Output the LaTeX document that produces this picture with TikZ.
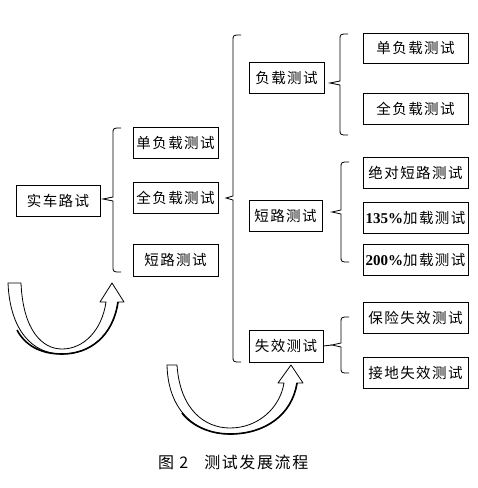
\documentclass[tikz,border=0pt]{standalone}
\usepackage{fontspec}
\setmainfont{Liberation Serif}
\newfontfamily\cjk[LetterSpace=10]{Noto Sans CJK SC}
\newfontfamily\cjkcap[LetterSpace=10]{Noto Sans CJK SC}
\newcommand{\mybrace}[5]{% x, ytop, ymid, ybot, tipx
  \draw[bracestyle] (#1+8,#2) .. controls (#1,#2) .. (#1,#2+6) -- (#1,#3-2) -- (#5,#3) -- (#1,#3+2) -- (#1,#4-6) .. controls (#1,#4) .. (#1+8,#4);}
\begin{document}
\begin{tikzpicture}[x=1pt,y=-1pt,
  bx/.style={draw, line width=0.8pt, inner sep=0pt, font=\cjk\fontsize{14.5}{16}\selectfont},
  bracestyle/.style={line width=0.8pt},
  band/.style={draw, fill=white, line width=0.8pt, line join=round},
  bandedge/.style={line width=1.6pt}]
\useasboundingbox (0,0) rectangle (478,488);
% left column
\node[bx, minimum width=84pt, minimum height=31pt] (a) at (58,200.5) {实车路试};
\node[bx, minimum width=85pt, minimum height=31pt] (l1) at (175.5,142.5) {单负载测试};
\node[bx, minimum width=85pt, minimum height=31pt] (l2) at (175.5,197.5) {全负载测试};
\node[bx, minimum width=85pt, minimum height=32pt] (l3) at (175.5,260) {短路测试};
% middle column
\node[bx, minimum width=75pt, minimum height=31pt] (m1) at (286.5,77.5) {负载测试};
\node[bx, minimum width=73pt, minimum height=31pt] (m2) at (285.5,215.5) {短路测试};
\node[bx, minimum width=74pt, minimum height=32pt] (m3) at (286,346) {失效测试};
% right column
\node[bx, minimum width=105pt, minimum height=30pt] (r1) at (415.5,48) {单负载测试};
\node[bx, minimum width=105pt, minimum height=31pt] (r2) at (415.5,108.5) {全负载测试};
\node[bx, minimum width=105pt, minimum height=31pt] (r3) at (415.5,172.5) {绝对短路测试};
\node[bx, minimum width=105pt, minimum height=31pt] (r4) at (415.5,217.5) {{\rmfamily\bfseries\fontsize{15}{16}\selectfont 135\%}加载测试};
\node[bx, minimum width=105pt, minimum height=31pt] (r5) at (415.5,259.5) {{\rmfamily\bfseries\fontsize{15}{16}\selectfont 200\%}加载测试};
\node[bx, minimum width=105pt, minimum height=31pt] (r6) at (415.5,317.5) {保险失效测试};
\node[bx, minimum width=105pt, minimum height=31pt] (r7) at (415.5,372.5) {接地失效测试};
% braces
\mybrace{113}{128}{199}{272}{103}
\mybrace{233}{35}{198}{362}{226}
\mybrace{340}{34}{83}{135}{330}
\mybrace{341}{162}{212}{262}{332}
\mybrace{341}{317}{345}{373}{332}
\draw[bracestyle] (m3.east) -- (332,345);
% curved arrows
\draw[band] (8,283) -- (21,283) .. controls (23,330) and (42,349) .. (62,349) .. controls (84,349) and (102,330) .. (106,302) -- (100,302) -- (112,283) -- (124,302) -- (118,302) .. controls (113,336) and (90,354) .. (62,354) .. controls (32,354) and (10,330) .. (8,283) -- cycle;
\draw[bandedge] (118,302) .. controls (113,336) and (90,354) .. (62,354) .. controls (40,354) and (25,345) .. (17,330);
\draw[band] (167,365) -- (177,365) .. controls (180,410) and (205,428) .. (230,428) .. controls (258,428) and (280,408) .. (284,383) -- (278,383) -- (291,365) -- (303,383) -- (297,383) .. controls (292,415) and (265,434) .. (230,434) .. controls (195,434) and (168,410) .. (167,365) -- cycle;
\draw[bandedge] (297,383) .. controls (292,415) and (265,434) .. (230,434) .. controls (210,434) and (192,426) .. (182,413);
% caption
\node[font=\cjkcap\fontsize{16}{18}\selectfont, anchor=west, inner sep=0pt] (cap1) at (158,462) {图 2\hspace{16pt}测试发展流程};
\end{tikzpicture}
\end{document}
